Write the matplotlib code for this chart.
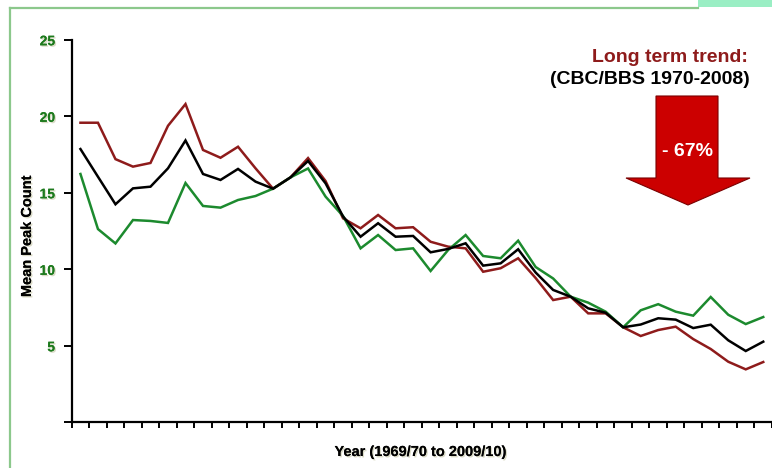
import numpy as np
import matplotlib
matplotlib.use("Agg")
import matplotlib.pyplot as plt
from matplotlib import patheffects
from matplotlib.patches import Polygon, Rectangle
from matplotlib.lines import Line2D

plt.rcParams['font.family'] = ['Liberation Sans', 'DejaVu Sans']

# Mean peak counts per winter season, 1969/70 onwards
seasons = np.arange(40)
cbc_bbs_mean = [17.86, 16.05, 14.25, 15.29, 15.40, 16.60, 18.42, 16.23, 15.84, 16.56,
                15.73, 15.27, 16.01, 17.08, 15.62, 13.45, 12.13, 13.01, 12.13, 12.18,
                11.11, 11.33, 11.70, 10.24, 10.39, 11.31, 9.79, 8.65, 8.21, 7.45,
                7.16, 6.21, 6.39, 6.80, 6.71, 6.16, 6.38, 5.36, 4.66, 5.27]
upper_series = [19.58, 19.58, 17.20, 16.71, 16.95, 19.38, 20.80, 17.80, 17.29, 18.01,
                16.60, 15.27, 16.01, 17.27, 15.77, 13.33, 12.68, 13.55, 12.68, 12.75,
                11.80, 11.48, 11.37, 9.84, 10.07, 10.72, 9.43, 7.99, 8.21, 7.12,
                7.12, 6.21, 5.64, 6.03, 6.25, 5.44, 4.79, 3.96, 3.46, 3.94]
lower_series = [16.23, 12.63, 11.69, 13.22, 13.16, 13.03, 15.64, 14.14, 14.03, 14.53,
                14.79, 15.27, 16.01, 16.59, 14.75, 13.48, 11.37, 12.24, 11.26, 11.37,
                9.89, 11.26, 12.24, 10.87, 10.72, 11.87, 10.15, 9.40, 8.21, 7.82,
                7.23, 6.21, 7.32, 7.72, 7.23, 6.97, 8.19, 7.03, 6.42, 6.88]
y_ticks = [0, 5, 10, 15, 20, 25]
y_tick_labels = ['', '5', '10', '15', '20', '25']
trend_label = "- 67%"

W, H = 772, 468
fig = plt.figure(figsize=(W / 100, H / 100), dpi=100)
fig.patch.set_facecolor('white')


def fx(px):
    return px / W


def fy(py):
    return 1 - py / H


# slide frame: thin green border and a mint tab in the top-right corner
fig.add_artist(Line2D([fx(10), fx(10)], [fy(8), 0], color='#8cc88c', lw=1.6,
                      transform=fig.transFigure))
fig.add_artist(Line2D([fx(10), fx(698)], [fy(8), fy(8)], color='#8cc88c', lw=1.6,
                      transform=fig.transFigure))
fig.add_artist(Rectangle((fx(698), fy(7)), fx(W - 698), 1 - fy(7), color='#9aeec4',
                         transform=fig.transFigure, lw=0))

ax = fig.add_axes([fx(71.7), fy(422.3), 1 - fx(71.7), fy(39.8) - fy(422.3)])
ax.set_facecolor('none')

ax.plot(seasons, upper_series, color='#8e1b1b', lw=1.8, solid_joinstyle='miter')
ax.plot(seasons, lower_series, color='#1c8a2e', lw=1.8, solid_joinstyle='miter')
ax.plot(seasons, cbc_bbs_mean, color='#000000', lw=1.8, solid_joinstyle='miter')

ax.set_xlim(-0.5, 39.18)
ax.set_ylim(0, 25)

for s in ['top', 'right']:
    ax.spines[s].set_visible(False)
for s in ['left', 'bottom']:
    ax.spines[s].set_linewidth(1.6)
    ax.spines[s].set_color('black')

ax.set_xticks(np.arange(-0.5, 40, 1))
ax.set_xticklabels([])
ax.tick_params(axis='x', direction='out', length=4, width=1.4, color='black')

shadow = [patheffects.withSimplePatchShadow(offset=(1, -1), shadow_rgbFace='#b8b890',
                                            alpha=0.5),
          patheffects.Normal()]

ax.set_yticks(y_ticks)
ax.set_yticklabels(y_tick_labels)
ax.tick_params(axis='y', direction='out', length=6, width=1.4, color='black', pad=6)
for lab in ax.get_yticklabels():
    lab.set_color('#1d7a1d')
    lab.set_fontweight('bold')
    lab.set_fontsize(10)
    lab.set_path_effects(shadow)

fig.text(fx(27), fy(236), 'Mean Peak Count', rotation=90, ha='center', va='center',
         fontsize=10.5, fontweight='bold', color='black', path_effects=shadow)
fig.text(fx(421), fy(452), 'Year (1969/70 to 2009/10)', ha='center', va='center',
         fontsize=10.5, fontweight='bold', color='black', path_effects=shadow)

# trend annotation
fig.text(fx(748), fy(57), 'Long term trend:', ha='right', va='center',
         fontsize=14, fontweight='bold', color='#8e1b1b')
fig.text(fx(750), fy(80), '(CBC/BBS 1970-2008)', ha='right', va='center',
         fontsize=14, fontweight='bold', color='black')

arrow_px = [(656, 96), (718, 96), (718, 178), (750, 178), (688, 205),
            (626, 178), (656, 178)]
arrow = Polygon([(fx(x), fy(y)) for x, y in arrow_px], closed=True,
                facecolor='#cc0000', edgecolor='#7a0000', lw=0.8,
                transform=fig.transFigure)
fig.add_artist(arrow)
fig.text(fx(687), fy(151), trend_label, ha='center', va='center',
         fontsize=14, fontweight='bold', color='white')

fig.savefig('out.png', dpi=100, facecolor='white')
